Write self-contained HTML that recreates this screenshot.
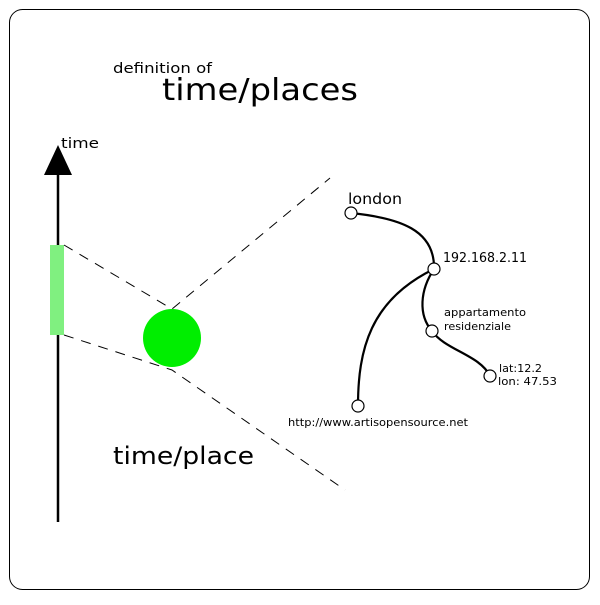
<!DOCTYPE html>
<html><head><style>body{margin:0;background:#fff}</style></head><body>
<svg width="600" height="600" viewBox="0 0 600 600" xmlns="http://www.w3.org/2000/svg" font-family="DejaVu Sans, Liberation Sans, sans-serif">
<rect x="9.5" y="9.5" width="580" height="580" rx="13" fill="#fff" stroke="#000" stroke-width="1"/>
<text x="113" y="73" font-size="14" textLength="99" lengthAdjust="spacingAndGlyphs">definition of</text>
<text x="162" y="100" font-size="30" textLength="196" lengthAdjust="spacingAndGlyphs">time/places</text>
<line x1="58" y1="522" x2="58" y2="170" stroke="#000" stroke-width="2.5"/>
<polygon points="58,145 44,175 72,175" fill="#000"/>
<text x="61" y="148" font-size="14" textLength="38" lengthAdjust="spacingAndGlyphs">time</text>
<rect x="50" y="245" width="14" height="90" fill="#80f080"/>
<g stroke="#000" stroke-width="1" stroke-dasharray="10,8" fill="none">
<polyline points="64,245 172,309 330,178"/>
<polyline points="64,335 172,370 345,490"/>
</g>
<circle cx="172" cy="338" r="29" fill="#00ee00"/>
<text x="113" y="464" font-size="24" textLength="141" lengthAdjust="spacingAndGlyphs">time/place</text>
<g stroke="#000" stroke-width="2.2" fill="none">
<path d="M351,213 C400,218 435,230 434,269"/>
<path d="M434,269 C420,290 418,315 432,331"/>
<path d="M432,331 C445,350 480,355 490,376"/>
<path d="M434,269 C370,300 358,350 358,406"/>
</g>
<g fill="#fff" stroke="#000" stroke-width="1.2">
<circle cx="351" cy="213" r="6"/>
<circle cx="434" cy="269" r="6"/>
<circle cx="432" cy="331" r="6"/>
<circle cx="490" cy="376" r="6"/>
<circle cx="358" cy="406" r="6"/>
</g>
<text x="348" y="204" font-size="15" textLength="54" lengthAdjust="spacingAndGlyphs">london</text>
<text x="443" y="262" font-size="13" textLength="84" lengthAdjust="spacingAndGlyphs">192.168.2.11</text>
<text x="444" y="316" font-size="11" textLength="82" lengthAdjust="spacingAndGlyphs">appartamento</text>
<text x="444" y="330" font-size="11" textLength="67" lengthAdjust="spacingAndGlyphs">residenziale</text>
<text x="499" y="372" font-size="11" textLength="43" lengthAdjust="spacingAndGlyphs">lat:12.2</text>
<text x="498" y="385" font-size="11" textLength="59" lengthAdjust="spacingAndGlyphs">lon: 47.53</text>
<text x="288" y="426" font-size="11" textLength="180" lengthAdjust="spacingAndGlyphs">http://www.artisopensource.net</text>
</svg>
</body></html>
